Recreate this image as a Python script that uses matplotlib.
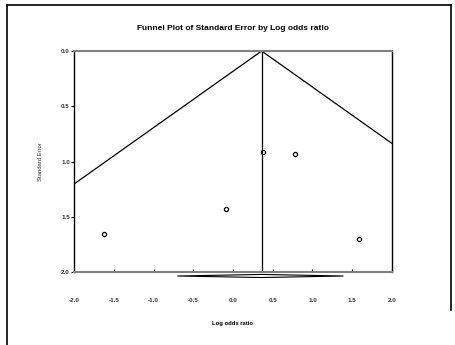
import matplotlib
matplotlib.use("Agg")
import matplotlib.pyplot as plt
from matplotlib.patches import Polygon
import numpy as np

plt.rcParams['font.family'] = ['Liberation Sans', 'DejaVu Sans']

# Data
log_odds = [-1.62, -0.09, 0.38, 0.78, 1.58]
std_err = [1.66, 1.43, 0.91, 0.93, 1.70]
pooled = 0.36
ci_low, ci_high = -0.70, 1.39
x_ticks = [-2.0, -1.5, -1.0, -0.5, 0.0, 0.5, 1.0, 1.5, 2.0]
y_ticks = [0.0, 0.5, 1.0, 1.5, 2.0]

fig = plt.figure(figsize=(4.55, 3.45), dpi=100)
ax = fig.add_axes([74/455, 73/345, 318/455, 221/345])

# outer frame lines (figure coordinates)
fig.add_artist(plt.Line2D([7/455, 7/455], [0, 1 - 5/345], color='black', lw=1.2))
fig.add_artist(plt.Line2D([7/455, 451/455], [1 - 5/345, 1 - 5/345], color='black', lw=1.2))
fig.add_artist(plt.Line2D([451/455, 451/455], [1 - 5/345, 1 - 310/345], color='black', lw=1.2))

se = np.array([0.0, 2.0])
ax.plot(pooled - 1.96 * se, se, color='black', lw=0.9)
ax.plot(pooled + 1.96 * se, se, color='black', lw=0.9)
ax.plot([pooled, pooled], [0, 2], color='black', lw=0.9)

ax.plot(log_odds, std_err, linestyle='none', marker='o', markersize=3.0,
        markerfacecolor='none', markeredgecolor='black', markeredgewidth=0.9)

# diamond for pooled estimate
yd, hd = 2.036, 0.014
diamond = Polygon([[ci_low, yd], [pooled, yd - hd], [ci_high, yd], [pooled, yd + hd]],
                  closed=True, facecolor='white', edgecolor='black', lw=0.8, clip_on=False)
ax.add_patch(diamond)

ax.set_xlim(-2, 2)
ax.set_ylim(2, 0)
ax.set_xticks(x_ticks)
ax.set_yticks(y_ticks)
ax.set_xticklabels([f"{t:.1f}" for t in x_ticks], fontsize=4.5, fontweight='bold', color='#333333')
ax.set_yticklabels([f"{t:.1f}" for t in y_ticks], fontsize=4.5, fontweight='bold', color='#333333')
ax.tick_params(axis='x', direction='in', length=2, width=0.8, pad=19)
ax.tick_params(axis='y', direction='out', length=2, width=0.8, pad=1)

for s in ['top', 'bottom']:
    ax.spines[s].set_color('#808080')
    ax.spines[s].set_linewidth(1.5)
for s in ['left', 'right']:
    ax.spines[s].set_color('black')
    ax.spines[s].set_linewidth(1.0)

ax.set_title("Funnel Plot of Standard Error by Log odds ratio", fontsize=6,
             fontweight='bold', pad=15)
ax.set_xlabel("Log odds ratio", fontsize=4.2, fontweight='bold', labelpad=13)
ax.set_ylabel("Standard Error", fontsize=4.2, labelpad=13, color='#333333')

fig.savefig("out.png", dpi=100)
